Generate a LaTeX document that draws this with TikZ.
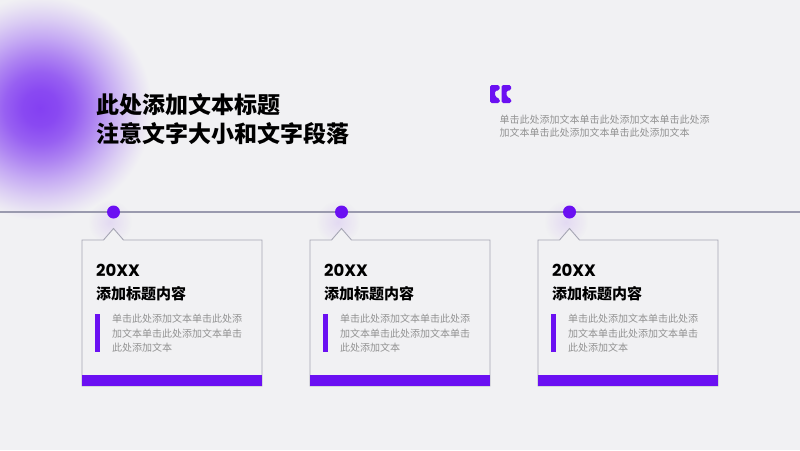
\documentclass[tikz,border=0pt]{standalone}
\usepackage{fontspec}
\usetikzlibrary{fadings}
\newfontfamily\cjk{Noto Sans CJK SC}
\newfontfamily\pop{Poppins}
\definecolor{bg}{HTML}{F1F1F3}
\definecolor{purp}{HTML}{6B10F2}
\definecolor{blobc}{HTML}{8440F2}
\definecolor{lineg}{HTML}{9A9AAE}
\definecolor{cardl}{HTML}{A6A6B4}
\definecolor{txtg}{HTML}{929292}
\colorlet{bA}{blobc!95!bg}
\colorlet{bB}{blobc!82!bg}
\colorlet{bC}{blobc!62!bg}
\colorlet{bD}{blobc!40!bg}
\colorlet{bE}{blobc!20!bg}
\colorlet{bF}{blobc!7!bg}
\pgfdeclareradialshading{blobshade}{\pgfpoint{0bp}{0bp}}{color(0bp)=(blobc); color(4bp)=(bA); color(8bp)=(bB); color(12bp)=(bC); color(16bp)=(bD); color(20bp)=(bE); color(23bp)=(bF); color(25bp)=(bg); color(50bp)=(bg)}
\tikzfading[name=glowfade, inner color=transparent!0, outer color=transparent!100]
\tikzset{
  timeline/.style={draw=lineg, line width=1.1pt},
  dotnode/.style={circle, fill=purp, minimum size=13pt, inner sep=0pt},
  dotglow/.style={fill=purp, opacity=0.10, path fading=glowfade},
  cardbox/.style={draw=cardl, line width=0.9pt, fill=bg},
  cardbar/.style={fill=purp},
  titletext/.style={font=\cjk\bfseries\fontsize{23}{28}\selectfont, anchor=base west, inner sep=0pt, text=black},
  yeartext/.style={font=\pop\bfseries\fontsize{16.5}{18}\selectfont, anchor=base west, inner sep=0pt, text=black},
  headtext/.style={font=\cjk\bfseries\fontsize{15}{18}\selectfont, anchor=base west, inner sep=0pt, text=black},
  bodytext/.style={font=\cjk\fontsize{10}{12}\selectfont, anchor=base west, inner sep=0pt, text=txtg},
}
\begin{document}
\begin{tikzpicture}[x=1pt,y=-1pt]
\useasboundingbox (0,0) rectangle (800,450);
\fill[bg] (0,0) rectangle (800,450);
% blurred blob
\begin{scope}
\clip (0,0) rectangle (800,450);
\shade[shading=blobshade] (40,108) circle (112pt);
\end{scope}
% title
\node[titletext] (title1) at (96,113.5) {此处添加文本标题};
\node[titletext] (title2) at (96,142) {注意文字大小和文字段落};
% quote mark
\begin{scope}[shift={(490,85)}]
\fill[purp, rounded corners=1.6pt] (0,0) -- (9.5,0) -- (9.5,5.5) -- (5,5.5) -- (5,11.5) -- (9.8,14) -- (9.8,18) -- (0,18) -- cycle;
\end{scope}
\begin{scope}[shift={(501.5,85)}]
\fill[purp, rounded corners=1.6pt] (0,0) -- (9.5,0) -- (9.5,5.5) -- (5,5.5) -- (5,11.5) -- (9.8,14) -- (9.8,18) -- (0,18) -- cycle;
\end{scope}
\node[bodytext] (quote1) at (499.3,123) {单击此处添加文本单击此处添加文本单击此处添};
\node[bodytext] (quote2) at (499.3,136.5) {加文本单击此处添加文本单击此处添加文本};
% glows behind dots
\foreach \i in {0,1,2}{
  \pgfmathsetmacro\L{82+228*\i}
  \fill[dotglow] (\L+28,222) circle (22pt);
}
% timeline
\coordinate (tlA) at (0,212);
\coordinate (tlB) at (800,212);
\draw[timeline] (tlA) -- (tlB);
% cards
\foreach \i in {0,1,2}{
  \pgfmathsetmacro\L{82+228*\i}
  \draw[cardbox] (\L,240) -- (\L+21.5,240) -- (\L+31.5,228.5) -- (\L+41.5,240) -- (\L+180,240) -- (\L+180,386) -- (\L,386) -- cycle;
  \fill[cardbar] (\L-0.45,375) rectangle (\L+180.45,386.45);
  \node[dotnode] (dot\i) at (\L+31.5,212) {};
  \node[yeartext] (year\i) at (\L+14,276.7) {20XX};
  \node[headtext] (head\i) at (\L+14,299) {添加标题内容};
  \fill[purp] (\L+13,314) rectangle (\L+18,352);
  \node[bodytext] (bodyA\i) at (\L+30,322.8) {单击此处添加文本单击此处添};
  \node[bodytext] (bodyB\i) at (\L+30,337.1) {加文本单击此处添加文本单击};
  \node[bodytext] (bodyC\i) at (\L+30,351.4) {此处添加文本};
}
\end{tikzpicture}
\end{document}
